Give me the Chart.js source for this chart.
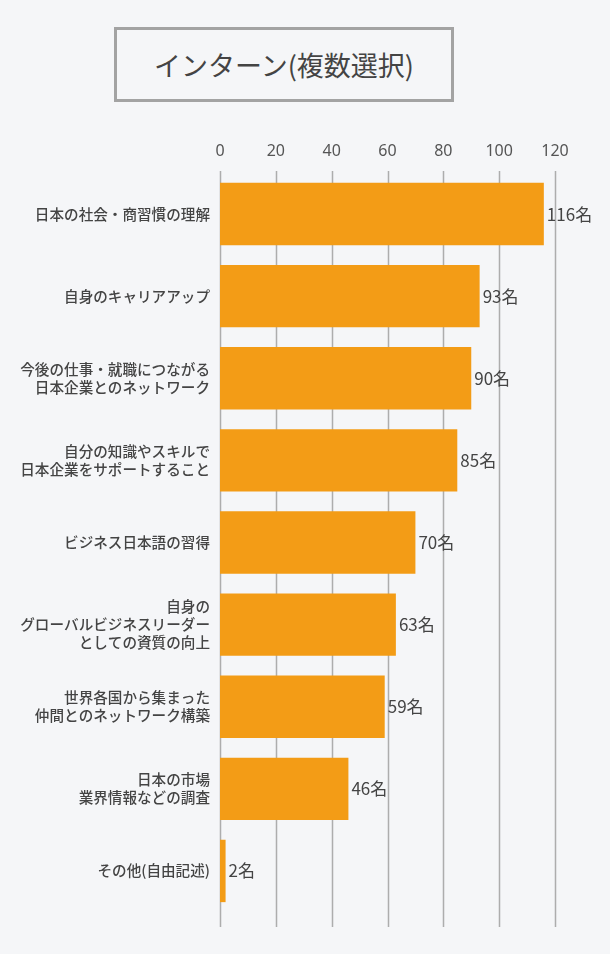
<!DOCTYPE html>
<html lang="ja">
<head>
<meta charset="utf-8">
<script src="https://cdn.jsdelivr.net/npm/chart.js@4.4.1/dist/chart.umd.min.js"></script>
<style>
  html, body { margin: 0; padding: 0; background: #f5f6f8; }
  body { width: 610px; height: 954px; position: relative; overflow: hidden; font-family: "Noto Sans CJK JP", "Noto Sans", sans-serif; }
  #title {
    position: absolute; left: 114px; top: 27px; width: 334px; height: 69px;
    border: 3px solid #a3a3a3; display: flex; align-items: center; justify-content: center;
    font-size: 27px; font-weight: 400; color: #444;
  }
  #wrap { position: absolute; left: 0; top: 0; width: 610px; height: 954px; }
</style>
</head>
<body>
<div id="title">インターン(複数選択)</div>
<div id="wrap"><canvas id="chart" width="610" height="954"></canvas></div>
<script>
// categories (multi-line labels as arrays)
const categories = [
  ['日本の社会・商習慣の理解'],
  ['自身のキャリアアップ'],
  ['今後の仕事・就職につながる', '日本企業とのネットワーク'],
  ['自分の知識やスキルで', '日本企業をサポートすること'],
  ['ビジネス日本語の習得'],
  ['自身の', 'グローバルビジネスリーダー', 'としての資質の向上'],
  ['世界各国から集まった', '仲間とのネットワーク構築'],
  ['日本の市場', '業界情報などの調査'],
  ['その他(自由記述)']
];
const counts = [116, 93, 90, 85, 70, 63, 59, 46, 2];
const unit = '名';
const xTicks = [0, 20, 40, 60, 80, 100, 120];

const textColor = '#444';
const gridColor = '#adadad';

// grid lines drawn from the x scale, reaching a bit past the plot
const gridPlugin = {
  id: 'grid',
  beforeDatasetsDraw(chart) {
    const { ctx, chartArea, scales: { x } } = chart;
    ctx.save();
    ctx.strokeStyle = gridColor;
    ctx.lineWidth = 1.5;
    xTicks.forEach(v => {
      const px = Math.round(x.getPixelForValue(v)) + 0.5;
      ctx.beginPath();
      ctx.moveTo(px, chartArea.top - 2);
      ctx.lineTo(px, chartArea.bottom + 15);
      ctx.stroke();
    });
    ctx.restore();
  }
};

// "116名" etc. right of each bar
const valueLabels = {
  id: 'valueLabels',
  afterDatasetsDraw(chart) {
    const { ctx } = chart;
    const meta = chart.getDatasetMeta(0);
    ctx.save();
    ctx.font = '17px "Noto Sans CJK JP", "Noto Sans", sans-serif';
    ctx.fillStyle = textColor;
    ctx.textAlign = 'left';
    ctx.textBaseline = 'middle';
    meta.data.forEach((bar, i) => {
      ctx.fillText(counts[i] + unit, bar.x + 3, bar.y);
    });
    ctx.restore();
  }
};

new Chart(document.getElementById('chart'), {
  type: 'bar',
  data: {
    labels: categories,
    datasets: [{
      data: counts,
      backgroundColor: '#f39c16',
      borderWidth: 0,
      barPercentage: 0.76,
      categoryPercentage: 1
    }]
  },
  options: {
    indexAxis: 'y',
    responsive: false,
    animation: false,
    layout: { padding: { top: 0, right: 55, bottom: 42, left: 0 } },
    plugins: { legend: { display: false }, tooltip: { enabled: false } },
    scales: {
      x: {
        position: 'top',
        min: 0,
        max: 120,
        afterBuildTicks(scale) { scale.ticks = xTicks.map(v => ({ value: v })); },
        afterFit(scale) { scale.height = 173; },
        grid: { display: false, drawTicks: false },
        border: { display: false },
        ticks: {
          color: '#555',
          padding: 12,
          font: { size: 16, family: '"Noto Sans", "Noto Sans CJK JP", sans-serif' }
        }
      },
      y: {
        afterFit(scale) { scale.width = 220; },
        grid: { display: false, drawTicks: false },
        border: { display: false },
        ticks: {
          color: textColor,
          padding: 10,
          font: { size: 14.6, weight: '500', lineHeight: 1.24, family: '"Noto Sans CJK JP", sans-serif' }
        }
      }
    }
  },
  plugins: [gridPlugin, valueLabels]
});
</script>
</body>
</html>
